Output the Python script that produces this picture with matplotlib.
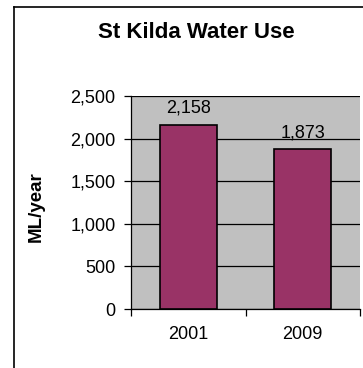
from matplotlib import pyplot as plt
from matplotlib.lines import Line2D
import numpy as np

years = ['2001', '2009']
water_use = [2158, 1873]
y_ticks = [0, 500, 1000, 1500, 2000, 2500]

plt.rcParams['font.family'] = ['Liberation Sans', 'DejaVu Sans']

fig = plt.figure(figsize=(3.63, 3.68), dpi=100)
ax = fig.add_axes([131 / 363, 1 - 309 / 368, 229 / 363, 213 / 368])

x = np.arange(len(years))
ax.bar(x, water_use, width=0.5, color='#993366', edgecolor='black', linewidth=1.2, zorder=3)
ax.set_facecolor('#C0C0C0')

ax.set_xlim(-0.5, len(years) - 0.5)
ax.set_ylim(0, 2500)
ax.set_yticks(y_ticks)
ax.set_yticklabels(['{:,}'.format(v) for v in y_ticks])
ax.grid(axis='y', color='black', linewidth=0.9, zorder=1)

# category boundaries as ticks, labels at centres
ax.set_xticks(np.arange(-0.5, len(years), 1.0))
ax.set_xticklabels([])
ax.set_xticks(x, minor=True)
ax.set_xticklabels(years, minor=True)
ax.tick_params(axis='x', which='major', direction='out', length=5, width=0.9)
ax.tick_params(axis='x', which='minor', length=0, labelsize=13, pad=12)
ax.tick_params(axis='y', direction='out', length=5, width=0.9, labelsize=13, pad=6)

for s in ['top', 'right']:
    ax.spines[s].set_visible(False)
ax.spines['left'].set_linewidth(0.9)
ax.spines['bottom'].set_linewidth(0.9)

for xi, v in zip(x, water_use):
    ax.annotate('{:,}'.format(v), (xi, v), xytext=(0, 6), textcoords='offset points',
                ha='center', va='bottom', fontsize=13)

ax.set_ylabel('ML/year', fontsize=13.5, fontweight='bold')
ax.yaxis.set_label_coords(-0.375, 0.48)

fig.text(196 / 363, 1 - 33 / 368, 'St Kilda Water Use', ha='center', va='center',
         fontsize=16, fontweight='bold')

# chart border (cropped on right and bottom)
fig.add_artist(Line2D([14 / 363, 14 / 363], [0, 1 - 7 / 368], transform=fig.transFigure,
                      color='black', linewidth=1.2))
fig.add_artist(Line2D([14 / 363, 1], [1 - 7 / 368, 1 - 7 / 368], transform=fig.transFigure,
                      color='black', linewidth=1.2))

plt.savefig('out.png', dpi=100)
